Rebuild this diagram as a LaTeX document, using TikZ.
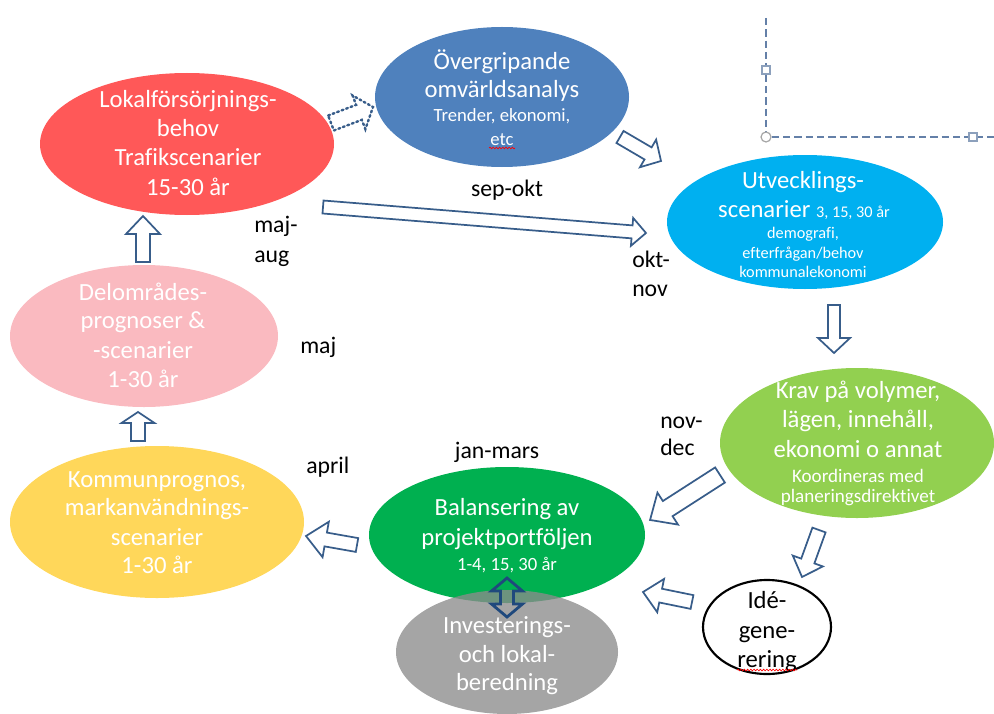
\documentclass[tikz,border=0pt]{standalone}
\usepackage{fontspec}
\setmainfont[Ligatures={NoCommon,NoRare,NoContextual}]{Carlito}
\usetikzlibrary{calc,shapes.geometric,decorations.pathmorphing}
\definecolor{redE}{RGB}{255,88,88}
\definecolor{blueE}{RGB}{79,129,189}
\definecolor{cyanE}{RGB}{0,176,240}
\definecolor{lgreenE}{RGB}{146,208,80}
\definecolor{dgreenE}{RGB}{0,176,80}
\definecolor{grayE}{RGB}{140,140,140}
\definecolor{pinkE}{RGB}{250,186,192}
\definecolor{yellowE}{RGB}{255,215,90}
\definecolor{arrC}{RGB}{56,93,138}
\definecolor{dblC}{RGB}{31,73,125}
\definecolor{dashC}{RGB}{100,128,168}
\definecolor{handC}{RGB}{140,160,188}
\newcommand\fL{\fontsize{18.5}{22}\selectfont}
\newcommand\fS{\fontsize{14}{17}\selectfont}
\newcommand\fC{\fontsize{12.2}{14}\selectfont}
\newcommand\fK{\fontsize{14.3}{16}\selectfont}
\newcommand\fLab{\fontsize{17.8}{21}\selectfont}
% ellipse node: name, colour, x, y, rx, ry (px)
\newcommand\ellnode[7][]{\node[ell,fill=#3,minimum width={#6*1.5pt},minimum height={#7*1.5pt},#1] (#2) at (#4,#5) {};}
% text line: name, x, y(baseline), font, text
\newcommand\tline[6][]{\node[wt,font=#5,#1] (#2) at (#3,#4) {#6};}
% block arrow: from, to, half body, half head, head length (px)
\newcommand\barrow[6][]{%
  \draw[arr,#1] let \p1=($(#3)-(#2)$), \n1={atan2(\y1,\x1)}, \n2={veclen(\x1,\y1)} in
  [shift={(#2)}, rotate=\n1]
  (0pt,{#4*0.75pt}) -- ({\n2-#6*0.75pt},{#4*0.75pt}) -- ({\n2-#6*0.75pt},{#5*0.75pt})
  -- (\n2,0pt) -- ({\n2-#6*0.75pt},{-#5*0.75pt}) -- ({\n2-#6*0.75pt},{-#4*0.75pt})
  -- (0pt,{-#4*0.75pt}) -- cycle;}
% double block arrow
\newcommand\dbarrow[6][]{%
  \draw[arr,#1] let \p1=($(#3)-(#2)$), \n1={atan2(\y1,\x1)}, \n2={veclen(\x1,\y1)} in
  [shift={(#2)}, rotate=\n1]
  (0pt,0pt) -- ({#6*0.75pt},{#5*0.75pt}) -- ({#6*0.75pt},{#4*0.75pt})
  -- ({\n2-#6*0.75pt},{#4*0.75pt}) -- ({\n2-#6*0.75pt},{#5*0.75pt}) -- (\n2,0pt)
  -- ({\n2-#6*0.75pt},{-#5*0.75pt}) -- ({\n2-#6*0.75pt},{-#4*0.75pt})
  -- ({#6*0.75pt},{-#4*0.75pt}) -- ({#6*0.75pt},{-#5*0.75pt}) -- cycle;}
\begin{document}
\begin{tikzpicture}[x=0.75pt,y=-0.75pt,
  ell/.style={ellipse,inner sep=0pt,draw=none},
  wt/.style={anchor=base,inner sep=0pt,text=white},
  bt/.style={anchor=base west,inner sep=0pt,text=black,font=\fLab},
  arr/.style={draw=arrC,fill=white,line width=1.3pt,line join=miter},
  dotarr/.style={draw=arrC,fill=none,line width=1.8pt,dash pattern=on 1.4pt off 2.2pt,line cap=round},
  dblarr/.style={draw=dblC,fill=none,line width=2.1pt},
  dashln/.style={draw=dashC,line width=0.9pt,dash pattern=on 5.5pt off 3pt},
  handle/.style={draw=handC,fill=white,line width=0.9pt,rectangle,minimum size=6pt,inner sep=0pt},
  wavy/.style={draw=red,line width=0.5pt,decorate,decoration={snake,amplitude=0.6pt,segment length=2.4pt}}]
\useasboundingbox (0,0) rectangle (994,713);

% selection handles (top right)
\coordinate (dvTop) at (766,18);
\coordinate (dCorner) at (766,137);
\coordinate (dhEnd) at (994,137);
\draw[dashln] (dvTop) -- (dCorner) -- (dhEnd);
\node[handle] (hA) at (766,70) {};
\node[handle] (hB) at (973,137) {};
\node[circle,draw=gray!70,fill=white,line width=0.9pt,minimum size=7.5pt,inner sep=0pt] (hC) at (dCorner) {};

% ellipses
\ellnode{lok}{redE}{187}{144}{147}{71}
\ellnode{omv}{blueE}{502}{97}{127}{70}
\ellnode{utv}{cyanE}{805}{222}{138}{67}
\ellnode{krav}{lgreenE}{857}{443}{137}{75}
\ellnode{bal}{dgreenE}{507}{535}{138}{68}
\ellnode[fill opacity=0.78]{inv}{grayE}{507}{652}{111}{62}
\ellnode{del}{pinkE}{144}{336}{134}{71}
\ellnode{kom}{yellowE}{157}{522}{147}{76}
\ellnode[draw=black,line width=1.6pt]{ide}{white}{767}{627}{64}{47}

% texts in ellipses
\tline{lok1}{188}{108}{\fL}{Lokalförsörjnings-}
\tline{lok2}{188}{137}{\fL}{behov}
\tline{lok3}{188}{166}{\fL}{Trafikscenarier}
\tline{lok4}{188}{195}{\fL}{15-30 år}

\tline{omv1}{502}{70}{\fL}{Övergripande}
\tline{omv2}{502}{98}{\fL}{omvärldsanalys}
\tline{omv3}{502}{122}{\fS}{Trender, ekonomi,}
\tline{omv4}{502}{146}{\fS}{etc}

\tline{utv1}{803}{188}{\fL}{Utvecklings-}
\tline{utv2}{804}{217}{\fL}{scenarier {\fC 3, 15, 30 år}}
\tline{utv3}{803}{238}{\fC}{demografi,}
\tline{utv4}{803}{258}{\fC}{efterfrågan/behov}
\tline{utv5}{803}{277}{\fC}{kommunalekonomi}

\tline{krav1}{858}{398}{\fL}{Krav på volymer,}
\tline{krav2}{858}{427}{\fL}{lägen, innehåll,}
\tline{krav3}{858}{457}{\fL}{ekonomi o annat}
\tline{krav4}{858}{482}{\fK}{Koordineras med}
\tline{krav5}{858}{502}{\fK}{planeringsdirektivet}

\tline{bal1}{507}{515}{\fL}{Balansering av}
\tline{bal2}{507}{545}{\fL}{projektportföljen}
\tline{bal3}{507}{570}{\fS}{1-4, 15, 30 år}

\tline{inv1}{507}{633}{\fL}{Investerings-}
\tline{inv2}{507}{662}{\fL}{och lokal-}
\tline{inv3}{507}{690}{\fL}{beredning}

\tline{del1}{143}{300}{\fL}{Delområdes-}
\tline{del2}{143}{328}{\fL}{prognoser \&}
\tline{del3}{143}{358}{\fL}{-scenarier}
\tline{del4}{143}{387}{\fL}{1-30 år}

\tline{kom1}{157}{487}{\fL}{Kommunprognos,}
\tline{kom2}{157}{515}{\fL}{markanvändnings-}
\tline{kom3}{157}{545}{\fL}{scenarier}
\tline{kom4}{157}{573}{\fL}{1-30 år}

\tline[text=black]{ide1}{767}{608}{\fL}{Idé-}
\tline[text=black]{ide2}{767}{638}{\fL}{gene-}
\tline[text=black]{ide3}{767}{667}{\fL}{rering}

% spell-check underlines
\coordinate (w1a) at (489,148); \coordinate (w1b) at (515,148);
\coordinate (w2a) at (737,670); \coordinate (w2b) at (797,670);
\draw[wavy] (w1a) -- (w1b);
\draw[wavy] (w2a) -- (w2b);

% month labels
\node[bt,anchor=base] (lSep) at (507,196) {sep-okt};
\node[bt] (lMaj1) at (254,232) {maj-};
\node[bt] (lMaj2) at (254,262) {aug};
\node[bt] (lOkt1) at (632,267) {okt-};
\node[bt] (lOkt2) at (632,296) {nov};
\node[bt] (lMaj) at (300,353) {maj};
\node[bt] (lNov1) at (660,428) {nov-};
\node[bt] (lNov2) at (660,455) {dec};
\node[bt] (lApr) at (306,473) {april};
\node[bt,anchor=base] (lJan) at (497,458) {jan-mars};

% arrow end points
\coordinate (aS) at (331,123);  \coordinate (aE) at (373,107);
\coordinate (bS) at (620,137);  \coordinate (bE) at (661,161);
\coordinate (cS) at (323,207);  \coordinate (cE) at (646,233);
\coordinate (dS) at (834,305);  \coordinate (dE) at (834,353);
\coordinate (eS) at (720,475);  \coordinate (eE) at (650,520);
\coordinate (fS) at (819,530);  \coordinate (fE) at (802,577);
\coordinate (gS) at (692,602);  \coordinate (gE) at (643,592);
\coordinate (hS) at (357,545);  \coordinate (hE) at (306,536);
\coordinate (iS) at (138,441);  \coordinate (iE) at (138,412);
\coordinate (jS) at (143,262);  \coordinate (jE) at (143,216);
\coordinate (kS) at (507,578);  \coordinate (kE) at (507,617);

\barrow[dotarr]{aS}{aE}{8}{18}{15}
\barrow{bS}{bE}{7}{16}{15}
\barrow{cS}{cE}{6.5}{14}{14}
\barrow{dS}{dE}{6}{16}{15}
\barrow{eS}{eE}{9}{19}{21}
\barrow{fS}{fE}{7}{16}{17}
\barrow{gS}{gE}{7}{17}{18}
\barrow{hS}{hE}{7}{18}{20}
\barrow{iS}{iE}{7}{16.5}{11}
\barrow{jS}{jE}{7}{17}{18}
\dbarrow[dblarr]{kS}{kE}{6.5}{15.5}{13}
\end{tikzpicture}
\end{document}
